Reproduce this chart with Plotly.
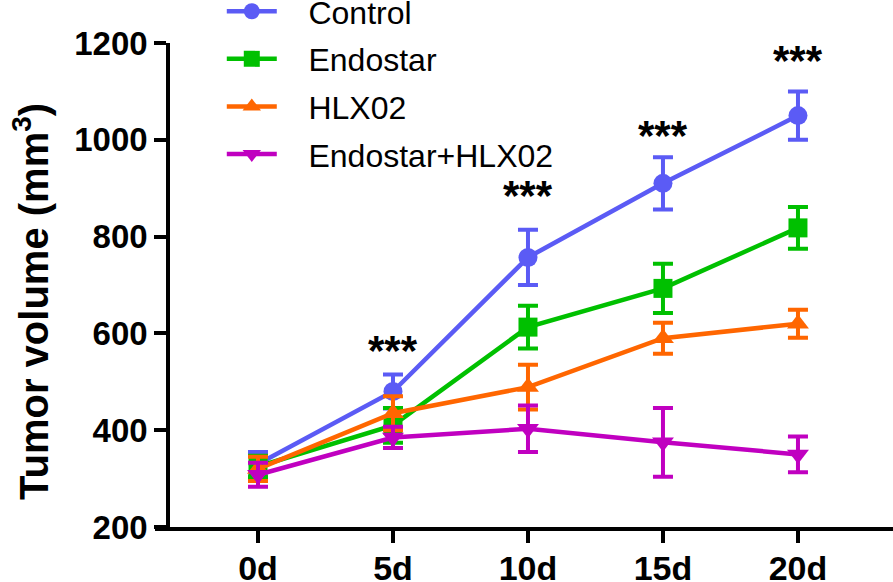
import plotly.graph_objects as go

days = ["0d", "5d", "10d", "15d", "20d"]
series_names = ["Control", "Endostar", "HLX02", "Endostar+HLX02"]
control = [330, 480, 757, 910, 1050]
control_err = [25, 35, 57, 54, 50]
endostar = [325, 410, 613, 693, 818]
endostar_err = [22, 36, 44, 51, 43]
hlx02 = [320, 435, 489, 590, 620]
hlx02_err = [25, 35, 46, 32, 29]
combo = [308, 385, 403, 375, 350]
combo_err = [25, 22, 48, 71, 37]
star_days = ["5d", "10d", "15d", "20d"]
star_y = [565, 885, 1008, 1163]
star_text = ["***", "***", "***", "***"]
y_title = "Tumor volume (mm<sup>3</sup>)"

colors = ["#5B5BF5", "#00C000", "#FF6600", "#C000C0"]
symbols = ["circle", "square", "triangle-up", "triangle-down"]
values = [control, endostar, hlx02, combo]
errors = [control_err, endostar_err, hlx02_err, combo_err]

FONT = "Liberation Sans, Arial"
PAD = "\u00a0\u00a0\u00a0"

fig = go.Figure()
for name, v, e, c, s in zip(series_names, values, errors, colors, symbols):
    fig.add_trace(go.Scatter(
        x=days, y=v, name=PAD + name, legendgroup=name,
        mode="lines+markers",
        line=dict(color=c, width=4.5),
        marker=dict(color=c, symbol=s, size=19, line=dict(width=0)),
        error_y=dict(type="data", array=e, visible=True, color=c, thickness=4, width=10),
    ))

for d, y, t in zip(star_days, star_y, star_text):
    fig.add_annotation(x=d, y=y, text=t, showarrow=False,
                       font=dict(family=FONT, size=42, color="black", weight="bold"))

fig.add_annotation(xref="paper", yref="paper", x=-0.168, y=0.465, text=y_title,
                   textangle=-90, showarrow=False, xanchor="center", yanchor="middle",
                   font=dict(family=FONT, size=40, color="black", weight="bold"))

fig.update_layout(
    width=893, height=582,
    margin=dict(l=155, r=0, t=43, b=55, autoexpand=False),
    paper_bgcolor="white", plot_bgcolor="white",
    font=dict(family=FONT, color="black"),
    legend=dict(x=0.0905, y=1.122, xanchor="left", yanchor="top", itemwidth=50,
                font=dict(size=32), tracegroupgap=3, bgcolor="rgba(0,0,0,0)"),
    xaxis=dict(type="category", range=[-0.763, 4.704], showgrid=False, zeroline=False,
               showline=True, linecolor="black", linewidth=3.5, automargin=False,
               ticks="outside", ticklen=12, tickwidth=3.5, tickcolor="black",
               ticklabelstandoff=-4,
               tickfont=dict(size=34, weight="bold"), anchor="y"),
    yaxis=dict(range=[200, 1200], tickvals=[200, 400, 600, 800, 1000, 1200],
               showgrid=False, zeroline=False, anchor="free", position=0.0176,
               showline=True, linecolor="black", linewidth=3.5, automargin=False,
               ticks="outside", ticklen=12, tickwidth=3.5, tickcolor="black",
               tickfont=dict(size=33, weight="bold")),
)
fig.write_html("out.html", config={"displayModeBar": False},
               post_script="document.body.style.margin='0';document.body.style.overflow='hidden';")
